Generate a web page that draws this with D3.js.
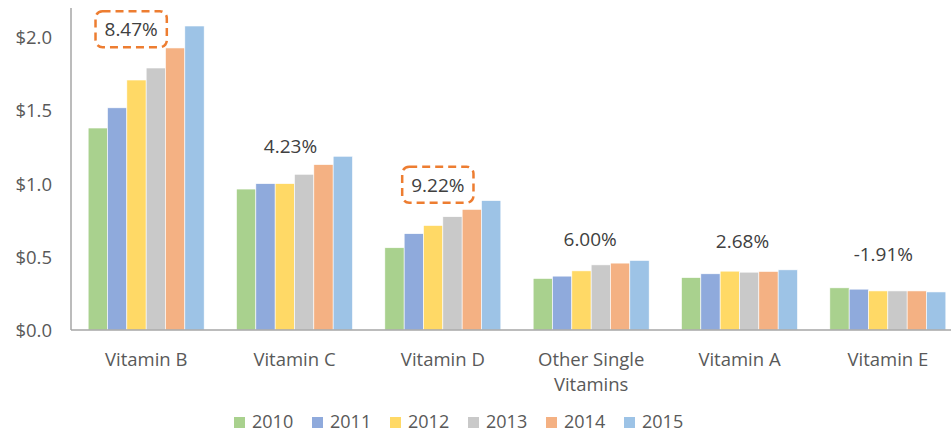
<!DOCTYPE html>
<html>
<head>
<meta charset="utf-8">
<script src="https://cdn.jsdelivr.net/npm/d3@7/dist/d3.min.js"></script>
<style>
  html, body { margin: 0; padding: 0; background: #fff; }
  svg { display: block; font-family: "Open Sans", sans-serif; }
</style>
</head>
<body>
<svg id="chart" width="951" height="433"></svg>
<script>
// ---- data ----
const categories = ["Vitamin B", "Vitamin C", "Vitamin D", "Other Single Vitamins", "Vitamin A", "Vitamin E"];
const years = ["2010", "2011", "2012", "2013", "2014", "2015"];
const values2010 = [1.38, 0.963, 0.562, 0.352, 0.358, 0.288];
const values2011 = [1.518, 1.0, 0.658, 0.368, 0.384, 0.279];
const values2012 = [1.708, 1.0, 0.714, 0.404, 0.402, 0.267];
const values2013 = [1.79, 1.064, 0.774, 0.445, 0.395, 0.267];
const values2014 = [1.927, 1.13, 0.824, 0.457, 0.40, 0.267];
const values2015 = [2.077, 1.187, 0.884, 0.475, 0.411, 0.26];
const growthLabels = ["8.47%", "4.23%", "9.22%", "6.00%", "2.68%", "-1.91%"];
const highlighted = [true, false, true, false, false, false];
const yTicks = [0, 0.5, 1.0, 1.5, 2.0];

// ---- layout / style (kept separate from data) ----
const colors = ["#A9D18E", "#8FAADC", "#FFD966", "#C9C9C9", "#F4B183", "#9DC3E6"];
const labelDx = [-15, -4, -5, -1, 3, -4.5];          // px offset from category centre
const labelAnchorVal = [2.055, 1.253, 0.993, 0.623, 0.610, 0.521]; // label centre in value units

const series = [values2010, values2011, values2012, values2013, values2014, values2015];

const svg = d3.select("#chart");
const x0 = 72, x1 = 962, yTop = 8, yBase = 330;

const x = d3.scaleBand().domain(categories).range([x0, x1]).paddingInner(0.218).paddingOuter(0.109);
const xi = d3.scaleBand().domain(years).range([0, x.bandwidth()]);
const y = d3.scaleLinear().domain([0, 2.2]).range([yBase, yTop]);

// bars
years.forEach((yr, si) => {
  svg.append("g").selectAll("rect")
    .data(categories.map((c, ci) => ({ c, v: series[si][ci] })))
    .join("rect")
    .attr("x", d => x(d.c) + xi(yr))
    .attr("y", d => y(d.v))
    .attr("width", xi.bandwidth())
    .attr("height", d => y(0) - y(d.v))
    .attr("fill", colors[si])
    .attr("stroke", "#fff")
    .attr("stroke-width", 0.6);
});

// y axis
const yAxis = d3.axisLeft(y).tickValues(yTicks).tickSize(0).tickPadding(0)
  .tickFormat(d => "$" + d3.format(".1f")(d));
const gy = svg.append("g").attr("transform", `translate(${52},0)`).call(yAxis);
gy.select(".domain").remove();
gy.selectAll("text").attr("fill", "#595959").style("font-size", "18.5px")
  .style("font-family", "Open Sans").attr("dy", "0.35em");

svg.append("line").attr("x1", 71).attr("x2", 71).attr("y1", yTop).attr("y2", yBase)
  .attr("stroke", "#A6A6A6").attr("stroke-width", 1.5);

// x axis
const xAxis = d3.axisBottom(x).tickSize(0).tickPadding(0);
const gx = svg.append("g").attr("transform", `translate(0,${yBase})`).call(xAxis);
gx.select(".domain").remove();
gx.selectAll("text").remove();
svg.append("line").attr("x1", 71).attr("x2", 951).attr("y1", yBase).attr("y2", yBase)
  .attr("stroke", "#A6A6A6").attr("stroke-width", 1.5);

gx.selectAll(".tick").each(function(d) {
  const t = d3.select(this).append("text")
    .attr("text-anchor", "middle").attr("fill", "#595959")
    .style("font-size", "18.5px").style("font-family", "Open Sans");
  let lines = d === "Other Single Vitamins" ? ["Other Single", "Vitamins"] : [d];
  lines.forEach((ln, i) => {
    t.append("tspan").attr("x", 0).attr("y", 36 + i * 25).text(ln);
  });
});

// growth labels
categories.forEach((c, i) => {
  const cx = x(c) + x.bandwidth() / 2 + labelDx[i];
  const cy = y(labelAnchorVal[i]);
  const g = svg.append("g");
  const t = g.append("text").attr("x", cx).attr("y", cy).attr("dy", "0.36em")
    .attr("text-anchor", "middle").attr("fill", "#404040")
    .style("font-size", "19px").style("font-family", "Open Sans")
    .text(growthLabels[i]);
  if (highlighted[i]) {
    const bb = t.node().getBBox();
    g.insert("rect", "text")
      .attr("x", cx - bb.width / 2 - 9).attr("y", cy - 18)
      .attr("width", bb.width + 18).attr("height", 36)
      .attr("rx", 7).attr("ry", 7)
      .attr("fill", "none").attr("stroke", "#ED7D31").attr("stroke-width", 2.5)
      .attr("stroke-dasharray", "8,5");
  }
});

// legend
const legend = svg.append("g");
years.forEach((yr, i) => {
  const lx = 234 + i * 78;
  legend.append("rect").attr("x", lx).attr("y", 417).attr("width", 11).attr("height", 11).attr("fill", colors[i]);
  legend.append("text").attr("x", lx + 18).attr("y", 428).attr("fill", "#595959")
    .style("font-size", "18px").style("font-family", "Open Sans").text(yr);
});
</script>
</body>
</html>
